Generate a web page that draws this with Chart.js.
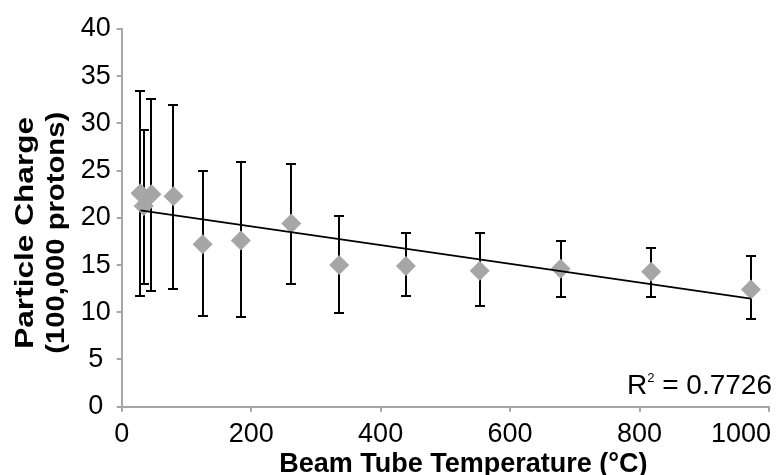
<!DOCTYPE html>
<html>
<head>
<meta charset="utf-8">
<script src="https://cdn.jsdelivr.net/npm/chart.js@4.4.0/dist/chart.umd.min.js"></script>
<style>
  html, body { margin: 0; padding: 0; background: #fff; }
  #contenedor { width: 780px; height: 475px; }
</style>
</head>
<body>
<div id="contenedor"><canvas id="grafica" width="780" height="475"></canvas></div>
<script>
//datos
var temperaturas = [ 29, 34, 46, 80, 125, 184, 262, 336, 439, 553, 678, 818, 972 ];
var cargas       = [ 22.6, 21.25, 22.5, 22.3, 17.2, 17.6, 19.4, 15.0, 14.9, 14.4, 14.6, 14.3, 12.4 ];
var errorArriba  = [ 33.4, 29.3, 32.6, 32.0, 25.0, 25.9, 25.7, 20.2, 18.4, 18.4, 17.55, 16.8, 15.95 ];
var errorAbajo   = [ 11.7, 13.0, 12.3, 12.5, 9.6, 9.45, 13.0, 9.95, 11.7, 10.7, 11.6, 11.6, 9.25 ];
var tendenciaX   = [ 29, 972 ];
var tendenciaY   = [ 20.8, 11.45 ];
var ticksX       = [ 0, 200, 400, 600, 800, 1000 ];
var ticksY       = [ 0, 5, 10, 15, 20, 25, 30, 35, 40 ];
var tituloX      = 'Beam Tube Temperature (°C)';
var tituloY      = [ 'Particle Charge', '(100,000 protons)' ];
var valorR2      = '0.7726';

var fuente = '"Liberation Sans", Arial, sans-serif';
var gris = '#a6a6a6';

//barras de error
var barrasError =
{
  id: 'barrasError',
  beforeDatasetsDraw: function( chart )
  {
    var ctx = chart.ctx;
    var ejeX = chart.scales.x;
    var ejeY = chart.scales.y;

    ctx.save( );
    ctx.strokeStyle = '#000';
    ctx.lineWidth = 2;

    temperaturas.forEach( function( t, i )
    {
      var px = Math.round( ejeX.getPixelForValue( t ) );
      var arriba = Math.round( ejeY.getPixelForValue( errorArriba[ i ] ) );
      var abajo = Math.round( ejeY.getPixelForValue( errorAbajo[ i ] ) );

      ctx.beginPath( );
      ctx.moveTo( px, arriba ); ctx.lineTo( px, abajo );
      ctx.moveTo( px - 5, arriba ); ctx.lineTo( px + 5, arriba );
      ctx.moveTo( px - 5, abajo ); ctx.lineTo( px + 5, abajo );
      ctx.stroke( );
    });

    ctx.restore( );
  }
};

//textos: etiquetas del eje x, titulos y R2
var textos =
{
  id: 'textos',
  afterDraw: function( chart )
  {
    var ctx = chart.ctx;
    var area = chart.chartArea;
    var ejeX = chart.scales.x;

    ctx.save( );
    ctx.fillStyle = '#000';
    ctx.textBaseline = 'alphabetic';

    //etiquetas eje x (la ultima alineada a la derecha como en excel)
    ctx.font = '27px ' + fuente;
    ticksX.forEach( function( v, i )
    {
      ctx.textAlign = ( i == ticksX.length - 1 ) ? 'right' : 'center';
      var px = ejeX.getPixelForValue( v );
      if ( i == ticksX.length - 1 ) px += 2;
      ctx.fillText( String( v ), px, area.bottom + 35 );
    });

    //titulo eje x
    ctx.font = 'bold 27px ' + fuente;
    ctx.textAlign = 'center';
    ctx.fillText( tituloX, ( area.left + area.right ) / 2 + 18, 472 );

    //titulo eje y (un poco estirado a lo largo como en la imagen)
    var largos = [ 232, 242 ];
    var bases = [ 33, 64 ];
    var centroY = ( area.top + area.bottom ) / 2 + 15;
    ctx.font = 'bold 25px ' + fuente;
    tituloY.forEach( function( linea, i )
    {
      var natural = ctx.measureText( linea ).width;
      ctx.save( );
      ctx.translate( bases[ i ], centroY );
      ctx.rotate( -Math.PI / 2 );
      ctx.scale( largos[ i ] / natural, 1 );
      ctx.textAlign = 'center';
      ctx.fillText( linea, 0, 0 );
      ctx.restore( );
    });

    //R2
    var derecha = area.right + 3;
    var base = area.bottom - 13;
    ctx.textAlign = 'right';
    ctx.font = '28px ' + fuente;
    var resto = ' = ' + valorR2;
    ctx.fillText( resto, derecha, base );
    var anchoResto = ctx.measureText( resto ).width;

    ctx.font = '13px ' + fuente;
    ctx.fillText( '2', derecha - anchoResto, base - 12 );
    var anchoDos = ctx.measureText( '2' ).width;

    ctx.font = '28px ' + fuente;
    ctx.fillText( 'R', derecha - anchoResto - anchoDos, base );
    ctx.restore( );
  }
};

var puntos = temperaturas.map( function( t, i ) { return { x: t, y: cargas[ i ] }; } );
var linea = tendenciaX.map( function( t, i ) { return { x: t, y: tendenciaY[ i ] }; } );

new Chart( document.getElementById( 'grafica' ),
{
  type: 'scatter',
  data:
  {
    datasets:
    [
      {
        type: 'line',
        data: linea,
        borderColor: '#000',
        borderWidth: 1.8,
        pointRadius: 0,
        fill: false,
        order: 0
      },
      {
        data: puntos,
        pointStyle: 'rectRot',
        pointRadius: 10,
        backgroundColor: gris,
        borderWidth: 0,
        order: 1
      }
    ]
  },
  options:
  {
    responsive: false,
    animation: false,
    devicePixelRatio: 1,
    layout: { padding: { top: 29, right: 11, left: 0, bottom: 0 } },
    plugins: { legend: { display: false }, tooltip: { enabled: false } },
    scales:
    {
      x:
      {
        type: 'linear',
        min: 0,
        max: 1000,
        afterBuildTicks: function( s ) { s.ticks = ticksX.map( function( v ) { return { value: v }; } ); },
        afterFit: function( s ) { s.height = 68.3; s.paddingLeft = 0; s.paddingRight = 0; },
        ticks: { display: false },
        grid: { drawOnChartArea: false, tickLength: 5, color: gris, lineWidth: 2 },
        border: { color: gris, width: 2 }
      },
      y:
      {
        min: 0,
        max: 40,
        afterBuildTicks: function( s ) { s.ticks = ticksY.map( function( v ) { return { value: v }; } ); },
        afterFit: function( s ) { s.width = 121.7; s.paddingTop = 0; s.paddingBottom = 0; },
        ticks: { color: '#000', font: { family: fuente, size: 27 }, padding: 6, crossAlign: 'center' },
        grid: { drawOnChartArea: false, tickLength: 5, color: gris, lineWidth: 2 },
        border: { color: gris, width: 2 }
      }
    }
  },
  plugins: [ barrasError, textos ]
});
</script>
</body>
</html>
